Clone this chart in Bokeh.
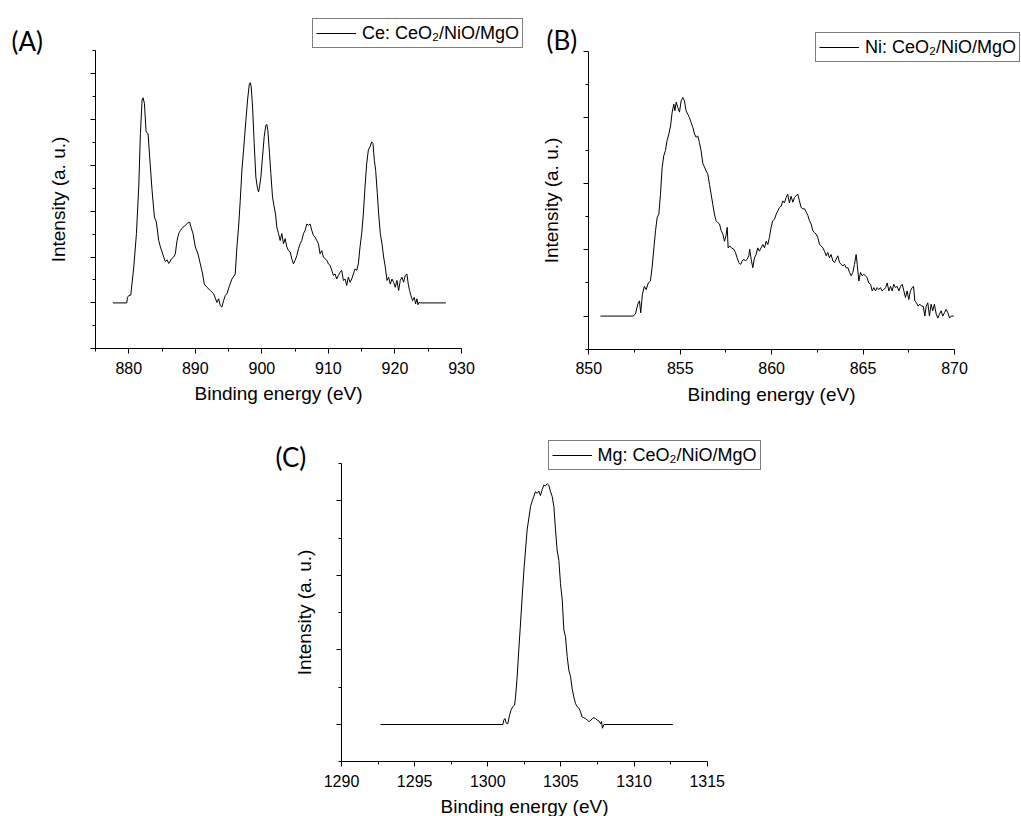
from bokeh.plotting import figure
from bokeh.layouts import column, row
from bokeh.models import (Label, Legend, LegendItem, FixedTicker,
                          CustomJSTickFormatter, Range1d)
from bokeh.embed import file_html
from bokeh.resources import INLINE

# ---------------- data ----------------
ce_energy = [877.6, 879.7, 879.8, 880.0, 880.3, 880.75, 881.15, 881.5, 881.75, 882.0,
             882.15, 882.35, 882.6, 882.9, 883.25, 883.5, 883.85, 884.15, 884.5, 884.75,
             885.25, 885.5, 885.75, 886.0, 886.15, 886.4, 886.75, 887.0, 887.25, 887.5,
             887.75, 888.15, 888.5, 888.85, 889.15, 889.35, 889.65, 890.0, 890.4, 890.75,
             891.1, 891.35, 891.75, 892.25, 892.75, 893.25, 893.5, 893.75, 894.0, 894.25,
             894.5, 894.75, 895.15, 895.5, 896.0, 896.25, 896.5, 896.75, 897.0, 897.25,
             897.6, 897.85, 898.1, 898.25, 898.4, 898.6, 898.85, 899.1, 899.35, 899.5,
             899.65, 899.85, 900.1, 900.35, 900.6, 900.75, 900.9, 901.15, 901.35, 901.6,
             901.85, 902.05, 902.25, 902.5, 902.75, 903.0, 903.25, 903.5, 903.75, 904.0,
             904.25, 904.5, 904.75, 905.0, 905.25, 905.5, 905.75, 906.0, 906.25, 906.5,
             906.75, 907.0, 907.25, 907.5, 907.75, 908.0, 908.25, 908.5, 908.75, 909.0,
             909.25, 909.5, 909.75, 910.0, 910.25, 910.5, 910.75, 911.0, 911.25, 911.5,
             911.75, 912.0, 912.25, 912.5, 912.75, 913.0, 913.25, 913.5, 913.75, 914.0,
             914.25, 914.5, 914.75, 915.0, 915.25, 915.5, 915.75, 916.0, 916.25, 916.5,
             916.7, 916.9, 917.1, 917.35, 917.55, 917.8, 918.05, 918.3, 918.55, 918.8,
             919.05, 919.3, 919.55, 919.8, 920.05, 920.3, 920.55, 920.8, 921.05, 921.3,
             921.55, 921.8, 922.0, 922.2, 922.4, 922.65, 922.9, 923.1, 923.3, 923.45,
             923.6, 923.8, 927.65]
ce_intensity = [0.0, 0.0, 0.12, 0.16, 0.17, 0.78, 1.51, 2.53, 3.69, 4.42,
                4.47, 4.35, 3.73, 3.69, 2.96, 2.45, 1.87, 1.76, 1.36, 1.22,
                1.0, 0.9, 0.94, 0.86, 0.89, 0.96, 1.0, 1.07, 1.36, 1.51,
                1.58, 1.65, 1.69, 1.74, 1.76, 1.65, 1.51, 1.22, 1.07, 0.85,
                0.63, 0.41, 0.34, 0.27, 0.2, 0.01, 0.09, -0.06, -0.09, 0.05,
                0.16, 0.2, 0.38, 0.52, 0.63, 1.22, 1.65, 2.23, 2.89, 3.33,
                3.98, 4.42, 4.75, 4.8, 4.71, 4.27, 3.47, 2.74, 2.49, 2.42,
                2.53, 2.74, 3.18, 3.62, 3.87, 3.89, 3.76, 3.25, 2.82, 2.31,
                2.09, 1.94, 1.65, 1.51, 1.36, 1.51, 1.29, 1.4, 1.22, 1.14,
                1.11, 0.96, 0.85, 0.93, 1.03, 1.18, 1.29, 1.36, 1.51, 1.58,
                1.72, 1.69, 1.72, 1.58, 1.47, 1.43, 1.36, 1.29, 1.07, 1.14,
                1.0, 0.96, 0.93, 0.85, 0.82, 0.71, 0.6, 0.63, 0.52, 0.6,
                0.67, 0.71, 0.49, 0.52, 0.38, 0.56, 0.45, 0.52, 0.63, 0.74,
                0.71, 0.85, 1.22, 1.51, 1.94, 2.53, 3.03, 3.33, 3.4, 3.51,
                3.47, 3.11, 2.89, 2.38, 1.94, 1.51, 1.29, 1.0, 0.78, 0.49,
                0.56, 0.41, 0.52, 0.45, 0.34, 0.49, 0.27, 0.49, 0.56, 0.45,
                0.6, 0.63, 0.41, 0.27, 0.16, 0.05, 0.12, -0.02, 0.09, -0.04,
                0.01, 0.0, 0.0]

ni_energy = [850.64, 852.42, 852.55, 852.68, 852.77, 852.84, 852.93, 853.04, 853.14, 853.25,
             853.37, 853.46, 853.56, 853.65, 853.74, 853.83, 853.92, 854.01, 854.1, 854.19,
             854.28, 854.38, 854.47, 854.56, 854.65, 854.71, 854.78, 854.87, 854.96, 855.05,
             855.14, 855.23, 855.32, 855.41, 855.5, 855.6, 855.69, 855.78, 855.87, 855.96,
             856.05, 856.14, 856.24, 856.33, 856.42, 856.51, 856.6, 856.69, 856.78, 856.87,
             856.96, 857.06, 857.15, 857.24, 857.33, 857.42, 857.5, 857.57, 857.62, 857.71,
             857.8, 857.93, 858.02, 858.11, 858.2, 858.3, 858.39, 858.48, 858.57, 858.66,
             858.75, 858.8, 858.88, 858.97, 859.06, 859.15, 859.24, 859.33, 859.42, 859.52,
             859.61, 859.7, 859.79, 859.88, 859.97, 860.06, 860.15, 860.25, 860.34, 860.43,
             860.52, 860.61, 860.7, 860.79, 860.88, 860.97, 861.06, 861.16, 861.25, 861.34,
             861.43, 861.52, 861.61, 861.7, 861.8, 861.89, 861.98, 862.07, 862.16, 862.25,
             862.34, 862.43, 862.52, 862.62, 862.71, 862.8, 862.89, 862.98, 863.07, 863.16,
             863.25, 863.35, 863.44, 863.53, 863.62, 863.71, 863.8, 863.9, 863.99, 864.07,
             864.17, 864.26, 864.35, 864.44, 864.53, 864.62, 864.68, 864.77, 864.86, 864.95,
             865.04, 865.13, 865.22, 865.31, 865.41, 865.5, 865.59, 865.68, 865.77, 865.86,
             865.95, 866.04, 866.13, 866.23, 866.32, 866.41, 866.5, 866.59, 866.68, 866.77,
             866.86, 866.96, 867.05, 867.14, 867.23, 867.32, 867.41, 867.5, 867.59, 867.68,
             867.76, 867.83, 867.92, 868.01, 868.1, 868.2, 868.29, 868.38, 868.45, 868.54,
             868.63, 868.72, 868.81, 868.9, 869.0, 869.09, 869.18, 869.27, 869.36, 869.45,
             869.54, 869.64, 869.73, 869.82, 869.96]
ni_intensity = [0.0, 0.0, 0.03, 0.18, 0.23, 0.05, 0.33, 0.45, 0.4, 0.5,
                0.53, 0.73, 1.03, 1.29, 1.49, 1.54, 1.84, 2.24, 2.42, 2.5,
                2.65, 2.75, 2.87, 3.08, 3.2, 3.1, 3.23, 3.15, 3.08, 3.25,
                3.3, 3.25, 3.1, 3.05, 3.0, 2.92, 2.85, 2.75, 2.7, 2.72,
                2.62, 2.5, 2.3, 2.25, 2.19, 2.14, 1.99, 1.84, 1.69, 1.54,
                1.44, 1.41, 1.39, 1.29, 1.24, 1.13, 1.21, 1.34, 1.03, 1.06,
                1.03, 1.01, 0.96, 0.88, 0.81, 0.78, 0.83, 0.86, 0.83, 0.86,
                0.91, 1.01, 0.86, 0.73, 0.88, 0.93, 1.03, 0.98, 1.03, 1.08,
                1.03, 1.13, 1.08, 1.19, 1.34, 1.44, 1.46, 1.54, 1.59, 1.64,
                1.66, 1.74, 1.71, 1.79, 1.84, 1.71, 1.81, 1.72, 1.79, 1.82,
                1.84, 1.74, 1.64, 1.62, 1.62, 1.57, 1.52, 1.44, 1.39, 1.29,
                1.26, 1.24, 1.19, 1.08, 1.06, 1.03, 0.98, 0.91, 0.96, 0.88,
                0.93, 0.83, 0.81, 0.86, 0.91, 0.81, 0.78, 0.76, 0.78, 0.73,
                0.73, 0.66, 0.61, 0.66, 0.78, 0.93, 0.78, 0.53, 0.66, 0.61,
                0.63, 0.61, 0.58, 0.5, 0.48, 0.38, 0.43, 0.38, 0.43, 0.4,
                0.43, 0.38, 0.4, 0.43, 0.5, 0.38, 0.45, 0.38, 0.48, 0.43,
                0.45, 0.38, 0.45, 0.48, 0.38, 0.28, 0.38, 0.25, 0.38, 0.43,
                0.45, 0.23, 0.2, 0.15, 0.18, 0.15, 0.15, 0.0, 0.15, 0.2,
                0.0, 0.18, 0.08, 0.18, 0.03, -0.03, 0.03, 0.08, 0.0, 0.05,
                0.1, 0.05, -0.03, 0.0, 0.0]

mg_energy = [1292.67, 1301.03, 1301.1, 1301.17, 1301.26, 1301.37, 1301.46, 1301.58, 1301.71, 1301.83,
             1301.9, 1302.01, 1302.12, 1302.24, 1302.35, 1302.47, 1302.58, 1302.69, 1302.81, 1302.92,
             1303.04, 1303.15, 1303.26, 1303.38, 1303.49, 1303.6, 1303.72, 1303.83, 1303.95, 1304.06,
             1304.17, 1304.29, 1304.4, 1304.52, 1304.63, 1304.74, 1304.86, 1304.97, 1305.09, 1305.2,
             1305.31, 1305.43, 1305.54, 1305.66, 1305.77, 1305.88, 1306.0, 1306.11, 1306.23, 1306.34,
             1306.45, 1306.57, 1306.68, 1306.8, 1306.91, 1307.02, 1307.14, 1307.25, 1307.37, 1307.48,
             1307.59, 1307.71, 1307.77, 1307.84, 1307.94, 1312.65]
mg_intensity = [0.0, 0.0, 0.06, 0.08, 0.02, 0.01, 0.1, 0.19, 0.24, 0.26,
                0.37, 0.64, 1.0, 1.36, 1.71, 2.07, 2.34, 2.61, 2.77, 2.92,
                3.0, 3.06, 3.12, 3.1, 3.13, 3.07, 3.15, 3.21, 3.2, 3.23,
                3.21, 3.12, 3.06, 2.92, 2.61, 2.34, 2.2, 1.89, 1.67, 1.27,
                1.18, 0.91, 0.73, 0.64, 0.48, 0.37, 0.28, 0.24, 0.22, 0.17,
                0.1, 0.09, 0.08, 0.06, 0.04, 0.05, 0.08, 0.09, 0.08, 0.06,
                0.05, 0.01, 0.04, -0.05, 0.0, 0.0]

a_xticks = [880, 890, 900, 910, 920, 930]
a_xminor = [875, 885, 895, 905, 915, 925]
a_yticks = [-1, 0, 1, 2, 3, 4, 5]
a_yminor = [-0.5, 0.5, 1.5, 2.5, 3.5, 4.5, 5.5]

b_xticks = [850, 855, 860, 865, 870]
b_xminor = [852.5, 857.5, 862.5, 867.5]
b_yticks = [0, 1, 2, 3, 4]
b_yminor = [-0.5, 0.5, 1.5, 2.5, 3.5]

c_xticks = [1290, 1295, 1300, 1305, 1310, 1315]
c_xminor = [1292.5, 1297.5, 1302.5, 1307.5, 1312.5]
c_yticks = [0, 1, 2, 3]
c_yminor = [-0.5, 0.5, 1.5, 2.5, 3.5]

FONT = "Liberation Sans"


def panel(xs, ys, canvas, frame, xr, yr, xt, xm, yt, ym,
          legend_text, legend_box, tag, tag_pos):
    """canvas = (left, top, width, height) in page px;
    frame = (left, right, top, bottom) page px of the axes box."""
    cl, ct, cw, ch = canvas
    fl, fr, ft, fb = frame
    kx = (xr[1] - xr[0]) / (fr - fl)
    ky = (yr[1] - yr[0]) / (fb - ft)
    x_range = Range1d(xr[0] - (fl - cl) * kx, xr[1] + (cl + cw - fr) * kx)
    y_range = Range1d(yr[0] - (ct + ch - fb) * ky, yr[1] + (ft - ct) * ky)

    p = figure(width=cw, height=ch, x_range=x_range, y_range=y_range,
               output_backend="svg", toolbar_location=None, title=None,
               min_border=0)
    p.outline_line_color = None
    p.grid.visible = False
    p.background_fill_color = "white"
    p.border_fill_color = "white"

    r = p.line(xs, ys, line_color="black", line_width=1)

    xa = p.xaxis[0]
    ya = p.yaxis[0]
    xa.fixed_location = yr[0]
    ya.fixed_location = xr[0]
    xa.bounds = (xr[0], xr[1])
    ya.bounds = (yr[0], yr[1])
    xa.ticker = FixedTicker(ticks=xt, minor_ticks=xm)
    ya.ticker = FixedTicker(ticks=yt, minor_ticks=ym)
    ya.formatter = CustomJSTickFormatter(code="return ''")
    for ax in (xa, ya):
        ax.axis_line_color = "black"
        ax.axis_line_width = 1
        ax.major_tick_line_color = "black"
        ax.minor_tick_line_color = "black"
        ax.major_tick_in = 0
        ax.major_tick_out = 5
        ax.minor_tick_in = 0
        ax.minor_tick_out = 3
        ax.axis_label_text_font = FONT
        ax.axis_label_text_font_style = "normal"
        ax.axis_label_text_font_size = "19px"
        ax.axis_label_text_color = "black"
    xa.axis_label = "Binding energy (eV)"
    ya.axis_label = "Intensity (a. u.)"
    xa.major_label_text_font = FONT
    xa.major_label_text_font_size = "16px"
    xa.major_label_text_color = "black"
    xa.major_label_standoff = 8
    xa.axis_label_standoff = 6
    ya.major_label_standoff = 0
    ya.axis_label_standoff = 22

    bl, bb = legend_box
    leg = Legend(items=[LegendItem(label=legend_text, renderers=[r])],
                 location=(bl - cl, ct + ch - bb), orientation="vertical",
                 border_line_color="black", border_line_width=1,
                 background_fill_color="white", background_fill_alpha=1.0,
                 padding=3, spacing=0, margin=0,
                 glyph_width=40, glyph_height=22, label_height=22,
                 label_standoff=6, label_text_font=FONT,
                 label_text_font_size="18px", label_text_color="black")
    p.add_layout(leg)

    tx, ty = tag_pos
    p.add_layout(Label(x=tx - cl, y=ct + ch - ty, x_units="screen", y_units="screen",
                       text=tag, text_font="Lato", text_font_size="26px",
                       text_color="black", text_baseline="alphabetic"))
    return p


pA = panel(ce_energy, ce_intensity, (0, 0, 530, 420), (95, 461, 50, 348.3),
           (875, 930), (-1, 5.5), a_xticks, a_xminor, a_yticks, a_yminor,
           "Ce: CeO\u2082/NiO/MgO", (312, 48), "(A)", (11, 40))
pB = panel(ni_energy, ni_intensity, (530, 0, 491, 420), (588.3, 954, 50.7, 348.7),
           (850, 870), (-0.5, 4.0), b_xticks, b_xminor, b_yticks, b_yminor,
           "Ni: CeO\u2082/NiO/MgO", (815, 62), "(B)", (546, 39))
pC = panel(mg_energy, mg_intensity, (0, 420, 1021, 396), (341, 706.7, 463, 761.3),
           (1290, 1315), (-0.5, 3.5), c_xticks, c_xminor, c_yticks, c_yminor,
           "Mg: CeO\u2082/NiO/MgO", (547.5, 470), "(C)", (275, 456))

layout = column(row(pA, pB, spacing=0), pC, spacing=0)

open("out.html", "w").write(file_html(layout, INLINE, title="XPS spectra"))
